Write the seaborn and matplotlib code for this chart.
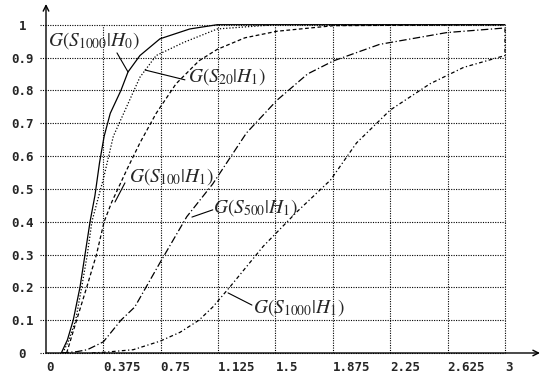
import numpy as np
import pandas as pd
import seaborn as sns
import matplotlib.pyplot as plt

# curve points
h0_x = [0.10, 0.14, 0.178, 0.222, 0.255, 0.288, 0.32, 0.35, 0.38, 0.42, 0.49, 0.536, 0.614, 0.745, 0.94, 1.12, 3.0]
h0_y = [0.0, 0.04, 0.1, 0.2, 0.3, 0.4, 0.48, 0.58, 0.66, 0.73, 0.8, 0.856, 0.906, 0.957, 0.987, 1.0, 1.0]

s20_x = [0.11, 0.15, 0.194, 0.233, 0.27, 0.30, 0.34, 0.375, 0.44, 0.527, 0.614, 0.72, 0.9, 1.12, 1.5, 3.0]
s20_y = [0.0, 0.04, 0.1, 0.2, 0.3, 0.4, 0.47, 0.53, 0.66, 0.75, 0.84, 0.906, 0.946, 0.987, 1.0, 1.0]

s100_x = [0.135, 0.2, 0.266, 0.33, 0.38, 0.43, 0.47, 0.53, 0.614, 0.72, 0.85, 1.0, 1.12, 1.3, 1.51, 1.88, 3.0]
s100_y = [0.0, 0.1, 0.2, 0.3, 0.4, 0.46, 0.5, 0.56, 0.64, 0.73, 0.82, 0.89, 0.925, 0.96, 0.98, 0.997, 1.0]

s500_x = [0.10, 0.2, 0.27, 0.375, 0.49, 0.58, 0.745, 0.92, 1.09, 1.31, 1.51, 1.71, 1.88, 2.18, 2.62, 3.0]
s500_y = [0.0, 0.004, 0.01, 0.034, 0.1, 0.14, 0.275, 0.415, 0.515, 0.67, 0.77, 0.85, 0.89, 0.94, 0.976, 0.99]

s1000_x = [0.3, 0.4, 0.57, 0.745, 0.876, 1.0, 1.09, 1.2, 1.42, 1.64, 1.86, 2.03, 2.25, 2.51, 2.73, 3.0, 3.0]
s1000_y = [0.0, 0.003, 0.01, 0.036, 0.063, 0.1, 0.14, 0.2, 0.325, 0.43, 0.527, 0.64, 0.74, 0.82, 0.87, 0.906, 0.99]

x_ticks = [0, 0.375, 0.75, 1.125, 1.5, 1.875, 2.25, 2.625, 3]
x_labels = ["0", "0.375", "0.75", "1.125", "1.5", "1.875", "2.25", "2.625", "3"]
y_ticks = [0, 0.1, 0.2, 0.3, 0.4, 0.5, 0.6, 0.7, 0.8, 0.9, 1.0]
y_labels = ["0", "0.1", "0.2", "0.3", "0.4", "0.5", "0.6", "0.7", "0.8", "0.9", "1"]

sns.set_style("white")
plt.rcParams["mathtext.fontset"] = "stix"

fig = plt.figure(figsize=(5.42, 3.79), dpi=100)
ax = fig.add_axes([46 / 542, 26 / 379, 494 / 542, 349 / 379])
ax.set_xlim(0, 3.229)
ax.set_ylim(0, 1.063)
for s in ax.spines.values():
    s.set_visible(False)

# dotted grid
dot = (0, (1, 1.2))
ax.hlines(y_ticks, -0.04, 3, colors="black", linestyles=[dot], lw=0.8, clip_on=False)
ax.vlines(x_ticks[1:], 0, 1, colors="black", linestyles=[dot], lw=0.8)

curves = [
    (h0_x, h0_y, "-"),
    (s20_x, s20_y, (0, (1, 1.5))),
    (s100_x, s100_y, (0, (3, 2))),
    (s500_x, s500_y, (0, (6, 2, 1, 2))),
    (s1000_x, s1000_y, (0, (3, 2, 1, 2))),
]
for xs, ys, ls in curves:
    df = pd.DataFrame({"x": xs, "y": ys})
    sns.lineplot(data=df, x="x", y="y", ax=ax, color="black", lw=0.9,
                 linestyle=ls, estimator=None, sort=False)

# axes with arrows
arrow = dict(arrowstyle="->", lw=1, color="black", shrinkA=0, shrinkB=0)
ax.annotate("", xy=(3.229, 0), xytext=(0, 0), arrowprops=arrow, annotation_clip=False)
ax.annotate("", xy=(0, 1.063), xytext=(0, 0), arrowprops=arrow, annotation_clip=False)

ax.set_xlabel("")
ax.set_ylabel("")
ax.set_xticks(x_ticks)
ax.set_xticklabels(x_labels, ha="left", fontfamily="DejaVu Sans Mono",
                   fontweight="bold", fontsize=9)
ax.set_yticks(y_ticks)
ax.set_yticklabels(y_labels, ha="center", fontfamily="DejaVu Sans Mono",
                   fontweight="bold", fontsize=9)
ax.tick_params(axis="x", length=0, pad=6)
ax.tick_params(axis="y", length=0, pad=17)

labels = [
    (r"$G(S_{1000}|H_0)$", (0.013, 0.953), (0.464, 0.914), (0.536, 0.856)),
    (r"$G(S_{20}|H_1)$", (0.928, 0.841), (0.908, 0.832), (0.647, 0.862)),
    (r"$G(S_{100}|H_1)$", (0.542, 0.536), (0.516, 0.518), (0.451, 0.46)),
    (r"$G(S_{500}|H_1)$", (1.09, 0.442), (1.09, 0.436), (0.954, 0.414)),
    (r"$G(S_{1000}|H_1)$", (1.353, 0.137), (1.346, 0.146), (1.19, 0.183)),
]
for txt, pos, p0, p1 in labels:
    ax.text(pos[0], pos[1], txt, fontsize=14, ha="left", va="center")
    ax.plot([p0[0], p1[0]], [p0[1], p1[1]], color="black", lw=0.8)

fig.savefig("out.png", dpi=100)
